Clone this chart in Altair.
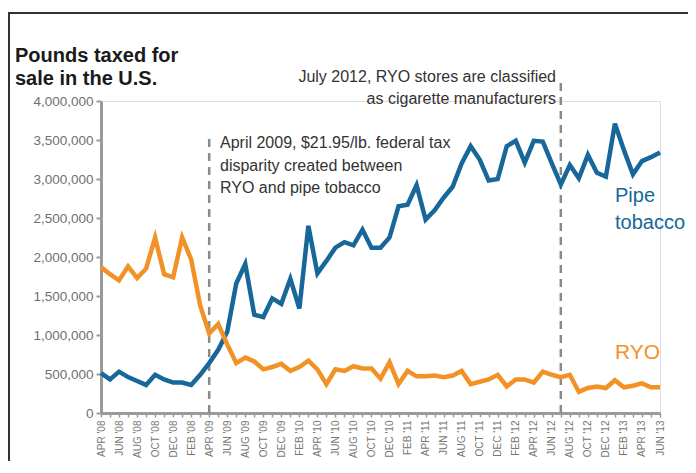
import json
import altair as alt
import pandas as pd

# ---- data ----
months = list(range(63))  # APR 2008 .. JUN 2013
x_labels = ["APR '08", "JUN '08", "AUG '08", "OCT '08", "DEC '08", "FEB '08",
            "APR '09", "JUN '09", "AUG '09", "OCT '09", "DEC '09", "FEB '10",
            "APR '10", "JUN '10", "AUG '10", "OCT '10", "DEC '10", "FEB '11",
            "APR '11", "JUN '11", "AUG '11", "OCT '11", "DEC '11", "FEB '12",
            "APR '12", "JUN '12", "AUG '12", "OCT '12", "DEC '12", "FEB '13",
            "APR '13", "JUN '13"]
pipe_m = [0.51, 0.43, 0.53, 0.46, 0.41, 0.36, 0.49, 0.43, 0.39, 0.39,
          0.36, 0.49, 0.64, 0.81, 1.04, 1.66, 1.91, 1.26, 1.23, 1.47,
          1.40, 1.72, 1.34, 2.40, 1.79, 1.95, 2.12, 2.19, 2.15, 2.35,
          2.12, 2.12, 2.25, 2.65, 2.67, 2.92, 2.48, 2.60, 2.76, 2.90,
          3.20, 3.42, 3.25, 2.98, 3.00, 3.42, 3.49, 3.21, 3.49, 3.48,
          3.20, 2.93, 3.18, 3.01, 3.31, 3.08, 3.03, 3.71, 3.37, 3.06,
          3.23, 3.28, 3.34]
ryo_m = [1.87, 1.78, 1.70, 1.88, 1.73, 1.85, 2.25, 1.78, 1.74, 2.25,
         1.97, 1.38, 1.02, 1.14, 0.88, 0.64, 0.71, 0.66, 0.56, 0.59,
         0.63, 0.54, 0.59, 0.67, 0.56, 0.37, 0.56, 0.54, 0.60, 0.57,
         0.57, 0.44, 0.65, 0.37, 0.54, 0.47, 0.47, 0.48, 0.46, 0.48,
         0.54, 0.37, 0.40, 0.43, 0.49, 0.34, 0.43, 0.43, 0.39, 0.53,
         0.49, 0.46, 0.49, 0.27, 0.32, 0.34, 0.32, 0.42, 0.33, 0.35,
         0.38, 0.33, 0.33]
series_names = ["Pipe tobacco", "RYO"]
series_colors = ["#17679A", "#F29226"]
event_months = [12, 51]  # April 2009, July 2012
y_ticks = list(range(0, 4000001, 500000))

rows = []
for m, p, r in zip(months, pipe_m, ryo_m):
    rows.append({"month": m, "value": p * 1e6, "series": series_names[0]})
    rows.append({"month": m, "value": r * 1e6, "series": series_names[1]})
df = pd.DataFrame(rows)
one = pd.DataFrame({"k": [0]})

FONT = "Liberation Sans, Arial, sans-serif"
W, H = 559, 312

label_expr = f"datum.value % 2 == 0 ? {json.dumps(x_labels)}[datum.value / 2] : ''"
x_enc = alt.X(
    "month:Q",
    scale=alt.Scale(domain=[0, 62], nice=False, zero=False),
    axis=alt.Axis(values=months, labelExpr=label_expr, labelAngle=270,
                  labelFontSize=10, labelColor="#777777", labelFont=FONT,
                  labelPadding=3, labelOverlap=False, labelFlush=False,
                  tickSize=4, tickColor="#9a9a9a", tickWidth=1.5,
                  domainColor="#9a9a9a", domainWidth=3, grid=False, title=None),
)

lines = alt.Chart(df).mark_line(strokeWidth=4.5).encode(
    x=x_enc,
    y=alt.Y("value:Q",
            scale=alt.Scale(domain=[0, 4000000], nice=False),
            axis=alt.Axis(values=y_ticks, format=",.0f", labelFontSize=13.5,
                          labelColor="#707070", labelFont=FONT, labelPadding=3,
                          tickSize=5, tickColor="#9a9a9a", tickWidth=2,
                          domainColor="#9a9a9a", domainWidth=3, grid=False,
                          title=None)),
    color=alt.Color("series:N", scale=alt.Scale(domain=series_names, range=series_colors),
                    legend=None),
)

rule1 = alt.Chart(pd.DataFrame({"month": [event_months[0]]})).mark_rule(
    strokeDash=[8, 6], color="#8a8a8a", strokeWidth=2.5).encode(
    x=x_enc, y=alt.value(H), y2=alt.value(37))
rule2 = alt.Chart(pd.DataFrame({"month": [event_months[1]]})).mark_rule(
    strokeDash=[8, 6], color="#8a8a8a", strokeWidth=2.5).encode(
    x=x_enc, y=alt.value(H), y2=alt.value(-20))

def txt(lines_, x, y, size, color, align="left", weight="normal", lh=22):
    return alt.Chart(one).mark_text(
        text=lines_, align=align, baseline="alphabetic", font=FONT,
        fontSize=size, fontWeight=weight, color=color, lineHeight=lh,
    ).encode(x=alt.value(x), y=alt.value(y))

title = txt(["Pounds taxed for", "sale in the U.S."], -86, -39, 20, "#1a1a1a",
            weight="bold", lh=23)
ann1 = txt(["April 2009, $21.95/lb. federal tax", "disparity created between",
            "RYO and pipe tobacco"], 119, 47, 16, "#333333", lh=22.5)
ann2 = txt(["July 2012, RYO stores are classified", "as cigarette manufacturers"],
           455, -19, 16, "#333333", align="right", lh=22)
pipe_lbl = txt(["Pipe", "tobacco"], 514, 101, 20, series_colors[0], lh=27)
ryo_lbl = txt(["RYO"], 514, 258, 21, series_colors[1])

RIGHT_PAD = 28
frame_top = alt.Chart(one).mark_rule(color="#333333", strokeWidth=2).encode(
    x=alt.value(-93), x2=alt.value(W + RIGHT_PAD), y=alt.value(-88))
frame_left = alt.Chart(one).mark_rule(color="#333333", strokeWidth=2).encode(
    x=alt.value(-92), y=alt.value(-89), y2=alt.value(H + 48))

chart = alt.layer(
    frame_top, frame_left, rule1, rule2, lines, title, ann1, ann2, pipe_lbl, ryo_lbl
).properties(
    width=W, height=H,
    autosize=alt.AutoSizeParams(type="none"),
    padding={"left": 93, "top": 93, "right": RIGHT_PAD, "bottom": 48},
).configure_view(stroke=None).configure(background="white")

chart.save("out.html", embed_options={"renderer": "svg", "actions": False})
